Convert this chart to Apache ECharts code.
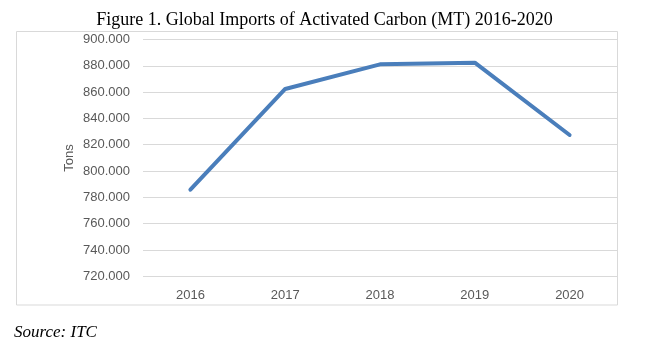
<!DOCTYPE html>
<html><head><meta charset="utf-8">
<script src="https://cdn.jsdelivr.net/npm/echarts@6/dist/echarts.min.js"></script>
<style>html,body{margin:0;padding:0;background:#fff}#c{width:649px;height:345px}</style>
</head><body><div id="c"></div>
<script>
var years = ['2016','2017','2018','2019','2020'];
var imports = [785.8, 862.4, 881.1, 882.4, 827.4];
var yMin = 720, yMax = 900, yStep = 20;

var chart = echarts.init(document.getElementById('c'), null, {renderer:'canvas'});
chart.setOption({
  animation: false,
  backgroundColor: '#ffffff',
  title: {
    text: 'Figure 1. Global Imports of Activated Carbon (MT) 2016-2020',
    left: 'center', top: 6,
    textStyle: {fontFamily: 'Liberation Serif', fontWeight: 'normal', fontSize: 18, color: '#000'}
  },
  graphic: [
    {type:'rect', shape:{x:16.5, y:31.5, width:601, height:273.5}, style:{fill:'none', stroke:'#d9d9d9', lineWidth:1}, z:-1},
    {type:'text', left:14, top:324, style:{text:'Source: ITC', font:'italic 17px "Liberation Serif"', fill:'#000'}}
  ],
  grid: {left:143, right:32, top:39.5, bottom:68.7},
  xAxis: {
    type:'category', data: years, boundaryGap:true,
    axisLine:{show:false}, axisTick:{show:false},
    axisLabel:{color:'#595959', fontSize:13, fontFamily:'Liberation Sans', margin:13}
  },
  yAxis: {
    type:'value', min:yMin, max:yMax, interval:yStep,
    name:'Tons', nameLocation:'middle', nameGap:67, nameRotate:90, nameMoveOverlap:false,
    nameTextStyle:{color:'#595959', fontSize:13, fontFamily:'Liberation Sans'},
    axisLine:{show:false}, axisTick:{show:false},
    axisLabel:{color:'#595959', fontSize:13, fontFamily:'Liberation Sans', margin:13,
      formatter:function(v){return v.toFixed(3);}},
    splitLine:{lineStyle:{color:'#d9d9d9', width:1}}
  },
  series: [{
    type:'line', data: imports, symbol:'none',
    lineStyle:{color:'#4A7EBB', width:4, cap:'round', join:'round'}
  }]
});
</script></body></html>
